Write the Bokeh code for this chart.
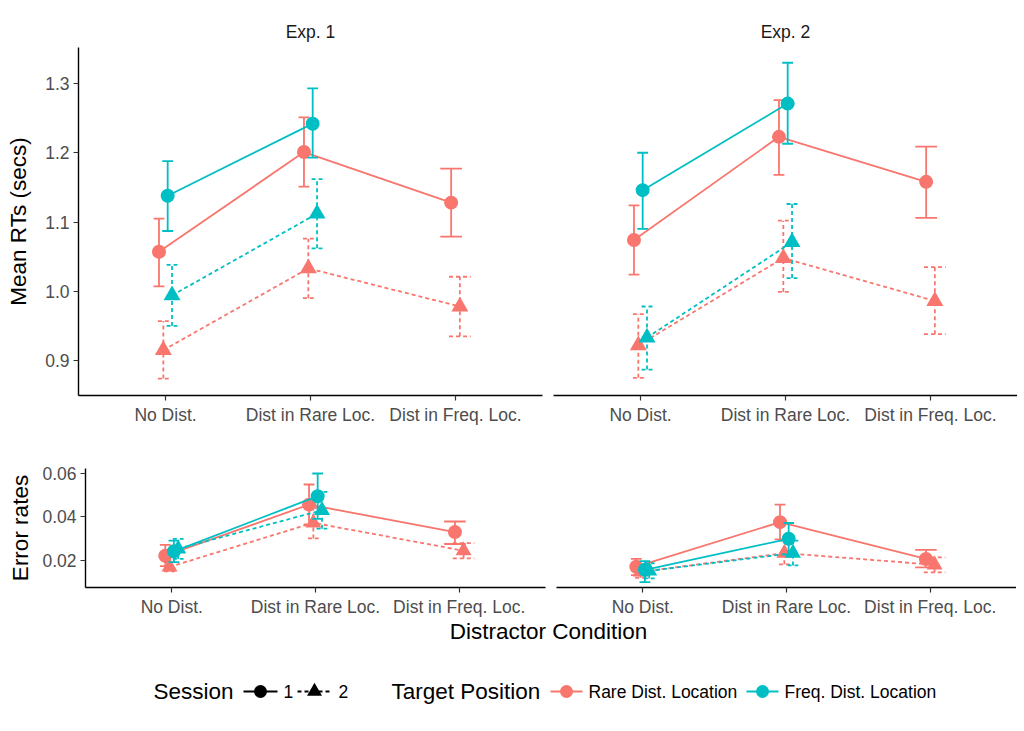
from bokeh.plotting import figure
from bokeh.layouts import column, row
from bokeh.models import Range1d, FixedTicker, PrintfTickFormatter
from bokeh.embed import file_html
from bokeh.resources import INLINE
from bokeh.core.properties import value

# ---------------- data ----------------
conditions = ["No Dist.", "Dist in Rare Loc.", "Dist in Freq. Loc."]
experiments = ["Exp. 1", "Exp. 2"]
session_labels = ["1", "2"]
target_labels = ["Rare Dist. Location", "Freq. Dist. Location"]

# Mean RTs (secs), Exp. 1
rt1_rare_s1 = [1.057, 1.201, 1.128]
rt1_rare_s1_lo = [1.007, 1.151, 1.079]
rt1_rare_s1_hi = [1.105, 1.251, 1.177]
rt1_freq_s1 = [1.138, 1.242]
rt1_freq_s1_lo = [1.087, 1.193]
rt1_freq_s1_hi = [1.188, 1.293]
rt1_rare_s2 = [0.915, 1.033, 0.978]
rt1_rare_s2_lo = [0.874, 0.990, 0.935]
rt1_rare_s2_hi = [0.957, 1.076, 1.021]
rt1_freq_s2 = [0.994, 1.112]
rt1_freq_s2_lo = [0.950, 1.062]
rt1_freq_s2_hi = [1.038, 1.162]

# Mean RTs (secs), Exp. 2
rt2_rare_s1 = [1.074, 1.223, 1.158]
rt2_rare_s1_lo = [1.024, 1.168, 1.106]
rt2_rare_s1_hi = [1.124, 1.276, 1.209]
rt2_freq_s1 = [1.146, 1.271]
rt2_freq_s1_lo = [1.090, 1.213]
rt2_freq_s1_hi = [1.200, 1.330]
rt2_rare_s2 = [0.922, 1.048, 0.986]
rt2_rare_s2_lo = [0.875, 0.999, 0.938]
rt2_rare_s2_hi = [0.967, 1.102, 1.035]
rt2_freq_s2 = [0.933, 1.071]
rt2_freq_s2_lo = [0.887, 1.019]
rt2_freq_s2_hi = [0.978, 1.126]

# Error rates, Exp. 1
er1_rare_s1 = [0.0220, 0.0456, 0.0329]
er1_rare_s1_lo = [0.0172, 0.0365, 0.0274]
er1_rare_s1_hi = [0.0270, 0.0549, 0.0378]
er1_freq_s1 = [0.0240, 0.0495]
er1_freq_s1_lo = [0.0190, 0.0390]
er1_freq_s1_hi = [0.0290, 0.0600]
er1_rare_s2 = [0.0168, 0.0372, 0.0243]
er1_rare_s2_lo = [0.0148, 0.0300, 0.0208]
er1_rare_s2_hi = [0.0190, 0.0440, 0.0278]
er1_freq_s2 = [0.0252, 0.0430]
er1_freq_s2_lo = [0.0205, 0.0345]
er1_freq_s2_hi = [0.0298, 0.0515]

# Error rates, Exp. 2
er2_rare_s1 = [0.0169, 0.0375, 0.0205]
er2_rare_s1_lo = [0.0130, 0.0295, 0.0166]
er2_rare_s1_hi = [0.0205, 0.0456, 0.0247]
er2_freq_s1 = [0.0155, 0.0298]
er2_freq_s1_lo = [0.0098, 0.0225]
er2_freq_s1_hi = [0.0195, 0.0371]
er2_rare_s2 = [0.0145, 0.0232, 0.0178]
er2_rare_s2_lo = [0.0118, 0.0180, 0.0143]
er2_rare_s2_hi = [0.0172, 0.0290, 0.0212]
er2_freq_s2 = [0.0150, 0.0232]
er2_freq_s2_lo = [0.0115, 0.0175]
er2_freq_s2_hi = [0.0185, 0.0290]

rt_ticks = [0.9, 1.0, 1.1, 1.2, 1.3]
er_ticks = [0.02, 0.04, 0.06]

# ---------------- style ----------------
FONT = "Liberation Sans"
RED = "#F8766D"
CYAN = "#00BFC4"
DASH = "4 3"
DODGE = 0.12
ERRW = 0.3
LW = 1.8
TICK_COLOR = "#4D4D4D"
TITLE_SIZE = "22.5px"
TEXT_SIZE = "17.5px"


def series(p, means, los, his, color, gi, dash, marker, msize):
    """gi: dodge slot among the 4 groups (red s1, red s2, cyan s1, cyan s2);
    the third condition only holds the two red groups."""
    xs, caps_w = [], []
    for ci in range(len(means)):
        n = 2 if ci == 2 else 4
        off = (gi - (n - 1) / 2.0) * DODGE / n
        xs.append(ci + 1 + off)
        caps_w.append(ERRW / n)
    ld = dash if dash else "solid"
    p.line(xs, means, line_color=color, line_width=LW, line_dash=ld)
    p.segment(xs, los, xs, his, line_color=color, line_width=LW, line_dash=ld)
    x0 = [x - w / 2 for x, w in zip(xs, caps_w)]
    x1 = [x + w / 2 for x, w in zip(xs, caps_w)]
    p.segment(x0, his, x1, his, line_color=color, line_width=LW, line_dash=ld)
    p.segment(x0, los, x1, los, line_color=color, line_width=LW, line_dash=ld)
    p.scatter(xs, means, marker=marker, size=msize, fill_color=color,
              line_color=color, line_width=0)


def make_panel(title, yr, ticks, fmt, frame_w, frame_h, show_y, ylabel,
               b_left, b_right, b_top, b_bottom, lab_standoff):
    p = figure(frame_width=frame_w, frame_height=frame_h,
               x_range=Range1d(0.4, 3.6), y_range=Range1d(*yr),
               output_backend="svg", toolbar_location=None,
               min_border_left=b_left, min_border_right=b_right,
               min_border_top=b_top, min_border_bottom=b_bottom,
               background_fill_color="white", border_fill_color="white")
    p.outline_line_color = None
    p.grid.visible = False
    if title:
        p.title.text = title
        p.title.align = "center"
        p.title.text_font = FONT
        p.title.text_font_size = TEXT_SIZE
        p.title.text_font_style = "normal"
        p.title.text_color = "#1A1A1A"
        p.title.standoff = 11
    for ax in [p.xaxis[0], p.yaxis[0]]:
        ax.axis_line_color = "black"
        ax.axis_line_width = 1.4
        ax.major_tick_line_color = "#333333"
        ax.major_tick_line_width = 1.2
        ax.major_tick_in = 0
        ax.major_tick_out = 5
        ax.minor_tick_line_color = None
        ax.major_label_text_font = FONT
        ax.major_label_text_font_size = TEXT_SIZE
        ax.major_label_text_color = TICK_COLOR
        ax.major_label_standoff = 4
    p.xaxis.ticker = FixedTicker(ticks=[1, 2, 3])
    p.xaxis.major_label_overrides = {1: conditions[0], 2: conditions[1], 3: conditions[2]}
    p.yaxis.ticker = FixedTicker(ticks=ticks)
    p.yaxis.formatter = PrintfTickFormatter(format=fmt)
    if show_y:
        p.yaxis.axis_label = ylabel
        p.yaxis.axis_label_text_font = FONT
        p.yaxis.axis_label_text_font_size = TITLE_SIZE
        p.yaxis.axis_label_text_font_style = "normal"
        p.yaxis.axis_label_text_color = "black"
        p.yaxis.axis_label_standoff = lab_standoff
    else:
        p.yaxis.visible = False
    return p


def fill(p, d, tri, circ):
    (rs1, rs1l, rs1h, fs1, fs1l, fs1h, rs2, rs2l, rs2h, fs2, fs2l, fs2h) = d
    series(p, rs1, rs1l, rs1h, RED, 0, None, "circle", circ)
    series(p, rs2, rs2l, rs2h, RED, 1, DASH, "triangle", tri)
    series(p, fs1, fs1l, fs1h, CYAN, 2, None, "circle", circ)
    series(p, fs2, fs2l, fs2h, CYAN, 3, DASH, "triangle", tri)


RT_RANGE = (0.8495, 1.352)
ER_RANGE = (0.0073, 0.0623)

tl = make_panel(experiments[0], RT_RANGE, rt_ticks, "%.1f", 464, 348, True,
                "Mean RTs (secs)", 78, 11, 47, 40, 11)
tr = make_panel(experiments[1], RT_RANGE, rt_ticks, "%.1f", 464, 348, False,
                "", 0, 0, 47, 40, 11)
bl = make_panel(None, ER_RANGE, er_ticks, "%.2f", 460, 119, True,
                "Error rates", 85, 11, 33, 30, 6)
br = make_panel(None, ER_RANGE, er_ticks, "%.2f", 460, 119, False,
                "", 0, 0, 33, 30, 6)

fill(tl, (rt1_rare_s1, rt1_rare_s1_lo, rt1_rare_s1_hi, rt1_freq_s1, rt1_freq_s1_lo, rt1_freq_s1_hi,
          rt1_rare_s2, rt1_rare_s2_lo, rt1_rare_s2_hi, rt1_freq_s2, rt1_freq_s2_lo, rt1_freq_s2_hi), 17, 14)
fill(tr, (rt2_rare_s1, rt2_rare_s1_lo, rt2_rare_s1_hi, rt2_freq_s1, rt2_freq_s1_lo, rt2_freq_s1_hi,
          rt2_rare_s2, rt2_rare_s2_lo, rt2_rare_s2_hi, rt2_freq_s2, rt2_freq_s2_lo, rt2_freq_s2_hi), 17, 14)
fill(bl, (er1_rare_s1, er1_rare_s1_lo, er1_rare_s1_hi, er1_freq_s1, er1_freq_s1_lo, er1_freq_s1_hi,
          er1_rare_s2, er1_rare_s2_lo, er1_rare_s2_hi, er1_freq_s2, er1_freq_s2_lo, er1_freq_s2_hi), 16, 14)
fill(br, (er2_rare_s1, er2_rare_s1_lo, er2_rare_s1_hi, er2_freq_s1, er2_freq_s1_lo, er2_freq_s1_hi,
          er2_rare_s2, er2_rare_s2_lo, er2_rare_s2_hi, er2_freq_s2, er2_freq_s2_lo, er2_freq_s2_hi), 16, 14)

# ---------------- x title + legend strip ----------------
lg = figure(width=1008, height=98, x_range=Range1d(0, 1008), y_range=Range1d(98, 0),
            output_backend="svg", toolbar_location=None,
            min_border_left=0, min_border_right=0, min_border_top=0, min_border_bottom=0)
lg.axis.visible = False
lg.grid.visible = False
lg.outline_line_color = None

lg.text(x=[548], y=[12], text=["Distractor Condition"], text_font=value(FONT),
        text_font_size=TITLE_SIZE, text_align="center", text_baseline="middle", text_color="black")

LY = 72
lg.text(x=[153], y=[LY], text=["Session"], text_font=value(FONT), text_font_size=TITLE_SIZE,
        text_align="left", text_baseline="middle", text_color="black")
lg.segment([243], [LY], [277], [LY], line_color="black", line_width=LW)
lg.scatter([260], [LY], marker="circle", size=13, fill_color="black", line_width=0)
lg.text(x=[283], y=[LY], text=[session_labels[0]], text_font=value(FONT), text_font_size=TEXT_SIZE,
        text_align="left", text_baseline="middle", text_color="black")
lg.segment([297], [LY], [331], [LY], line_color="black", line_width=LW, line_dash=DASH)
lg.scatter([314], [LY], marker="triangle", size=15, fill_color="black", line_width=0)
lg.text(x=[338], y=[LY], text=[session_labels[1]], text_font=value(FONT), text_font_size=TEXT_SIZE,
        text_align="left", text_baseline="middle", text_color="black")

lg.text(x=[391], y=[LY], text=["Target Position"], text_font=value(FONT), text_font_size=TITLE_SIZE,
        text_align="left", text_baseline="middle", text_color="black")
lg.segment([550], [LY], [582], [LY], line_color=RED, line_width=LW)
lg.scatter([566], [LY], marker="circle", size=13, fill_color=RED, line_width=0)
lg.text(x=[588], y=[LY], text=[target_labels[0]], text_font=value(FONT), text_font_size=TEXT_SIZE,
        text_align="left", text_baseline="middle", text_color="black")
lg.segment([746], [LY], [778], [LY], line_color=CYAN, line_width=LW)
lg.scatter([762], [LY], marker="circle", size=13, fill_color=CYAN, line_width=0)
lg.text(x=[784], y=[LY], text=[target_labels[1]], text_font=value(FONT), text_font_size=TEXT_SIZE,
        text_align="left", text_baseline="middle", text_color="black")

layout = column(row(tl, tr, spacing=0), row(bl, br, spacing=0), lg, spacing=0)

open("out.html", "w").write(file_html(layout, INLINE))
